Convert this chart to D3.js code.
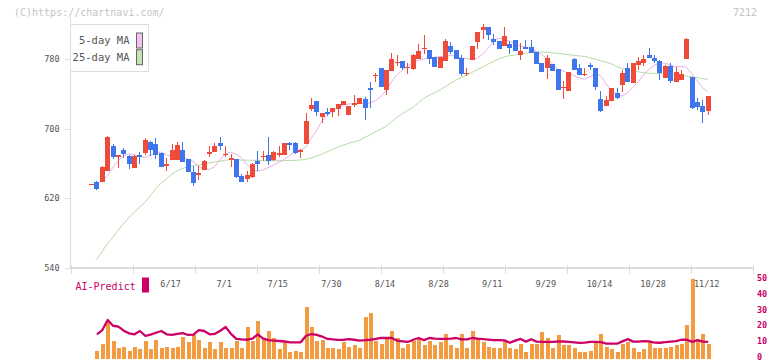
<!DOCTYPE html>
<html><head><meta charset="utf-8">
<script src="https://cdn.jsdelivr.net/npm/d3@7"></script>
<style>body{margin:0;background:#fff;} svg{display:block;} text{font-family:"DejaVu Sans Mono",monospace;}</style>
</head><body><svg id="c" width="772" height="361"></svg>
<script>
const dates = ["5/27","5/28","5/29","5/30","6/2","6/3","6/4","6/5","6/6","6/9","6/10","6/11","6/12","6/13","6/16","6/17","6/18","6/19","6/20","6/23","6/24","6/25","6/26","6/27","6/30","7/1","7/2","7/3","7/4","7/7","7/8","7/9","7/10","7/11","7/14","7/15","7/16","7/17","7/18","7/22","7/23","7/24","7/25","7/28","7/29","7/30","7/31","8/1","8/4","8/5","8/6","8/7","8/8","8/12","8/13","8/14","8/15","8/18","8/19","8/20","8/21","8/22","8/25","8/26","8/27","8/28","8/29","9/1","9/2","9/3","9/4","9/5","9/8","9/9","9/10","9/11","9/12","9/16","9/17","9/18","9/19","9/22","9/24","9/25","9/26","9/29","9/30","10/1","10/2","10/3","10/6","10/7","10/8","10/9","10/10","10/14","10/15","10/16","10/17","10/20","10/21","10/22","10/23","10/24","10/27","10/28","10/29","10/30","10/31","11/4","11/5","11/6","11/7","11/10","11/11","11/12"];
const open = [637,639,639,651,680,668,675,669,655,670,672,685,682,672,658,664,664,675,665,650,648,653,673,673,684,670,664,665,646,642,644,663,668,670,664,672,670,683,683,674,682,723,732,713,719,719,723,727,716,728,728,734,747,761,770,744,766,776,778,770,768,780,792,790,782,770,778,795,790,781,763,779,800,813,817,803,801,795,797,802,785,794,794,788,775,770,774,769,747,743,780,770,762,773,770,734,726,732,741,750,770,752,773,775,785,781,778,758,772,754,756,780,759,731,726,720];
const high = [637,640,657,692,682,670,678,670,670,673,689,686,689,672,666,682,685,685,665,657,657,664,680,684,690,680,671,665,648,651,661,674,674,690,674,680,684,685,685,677,718,735,732,718,724,724,728,732,726,739,735,736,754,764,770,767,787,785,778,775,786,797,807,790,782,782,803,800,790,785,770,795,811,820,817,809,801,817,801,802,798,802,802,788,775,785,774,769,755,765,781,774,770,775,770,743,738,747,747,767,775,775,782,785,793,785,779,773,775,771,767,804,759,735,733,738];
const low = [637,630,639,651,665,655,666,654,655,659,670,669,665,656,651,664,664,662,650,634,641,652,667,673,675,667,656,643,639,639,643,651,663,658,663,667,670,676,671,666,682,720,715,706,715,713,715,727,716,725,728,710,724,754,748,739,766,772,767,763,767,780,786,774,771,770,778,786,780,760,760,779,792,803,802,796,791,795,786,789,779,791,787,774,765,757,766,744,734,743,767,762,760,767,744,719,726,732,734,742,754,752,767,772,781,775,756,758,752,754,756,780,723,721,706,716];
const close = [637,631,656,690,668,670,671,659,669,668,687,675,670,656,659,675,681,662,650,638,649,663,673,680,680,671,666,644,639,647,659,659,669,663,673,672,683,681,672,675,709,727,719,718,717,724,728,732,726,729,735,724,744,762,748,767,780,777,770,771,785,789,793,780,771,782,801,788,780,763,764,795,811,817,808,800,792,806,793,789,789,792,787,774,765,781,766,744,748,765,767,762,763,771,748,720,733,747,735,764,754,775,778,780,781,778,764,772,755,765,763,803,724,725,719,738];
const volume = [0,5.0,9.4,23.1,10.7,6.9,7.5,5.0,7.5,5.7,10.7,5.7,11.9,6.3,7.5,6.3,7.5,13.8,10.1,14.5,11.9,6.9,10.1,5.7,10.1,6.9,6.9,11.3,6.9,20.1,10.7,23.3,12.6,17.0,12.6,5.7,10.1,4.4,5.0,4.4,32.1,20.1,10.7,11.9,6.9,6.3,5.7,10.1,7.5,8.2,6.3,26.4,28.9,10.7,9.4,12.6,17.6,12.6,6.9,9.4,10.7,12.6,8.8,10.7,8.2,10.1,15.1,8.8,6.3,15.1,6.3,17.0,12.6,10.1,7.5,6.3,6.3,10.7,6.9,5.7,9.4,4.4,9.4,9.4,16.4,13.2,6.9,14.5,8.2,8.2,6.3,4.4,4.4,5.0,10.7,15.1,7.5,5.7,3.8,9.4,10.1,6.9,4.4,5.7,10.7,6.3,6.9,6.9,7.5,8.8,9.4,20.8,50.3,10.7,15.1,9.4];
const ma5 = [null,636.5,639.9,645.7,654.8,662.9,668.6,670.9,670.3,668,667.1,669.2,672.1,673.2,670,668.3,667.8,667.5,665.5,662.3,657.1,653.7,653.1,656,663.5,670.9,673.2,670.9,666.9,659.4,653.1,651.4,652.5,655.2,658.3,661.4,664.5,669.2,673,675.5,678.4,688.7,697.3,708.2,714.9,720.1,724,727.2,728.1,728.8,729.1,729.1,729.7,732,736.6,743.8,753.6,761.6,766.8,771.4,776.3,778.3,780,781.2,782,782.7,783.2,784,783.5,780.8,780.8,779.3,780.9,785.4,792.1,799.8,803.6,803,800.3,797.5,795.3,793.5,792.1,789.4,785.3,780.7,774.5,768.5,766.2,763.9,761.1,758.4,756.8,759.5,762.8,761.1,751.9,744.6,739.8,737.5,741,747.3,753.6,761.6,768,772.8,775.4,775.3,773.1,771.2,771.3,770.8,763.4,755.3,747.3,742.5];
const ma25 = [null,549.8,558.4,567.6,575,583.1,590.5,597.4,603.7,609.5,615.2,622.7,630.7,637,642.2,647.4,651.4,654.3,656,657.7,658.3,659.2,660.6,661.7,662.6,663.7,664.5,664.3,664,663.9,663.7,663.5,663.3,663.2,663.2,663.2,663.3,663.5,663.6,664,664.7,666.3,668.4,670.6,673.4,676.3,678.5,681,683.1,684.8,686.6,689.9,692.9,696.3,699.4,702.6,707.7,712.8,716.9,720.9,724.3,729.5,734.7,738.1,741,744.2,747.9,751.9,755.6,758.7,761.5,764.5,767.6,770.8,773.9,777,779.8,782.3,783.9,784.6,785.4,786.6,787.8,788.4,788.1,787.7,787.1,786.4,785.8,785.1,784.3,783.6,782.9,781.5,779.8,777.9,776.3,774.5,771.4,769,767.8,766.7,765.3,764.4,763.6,763.4,763.1,762.9,762.6,762,761.3,760.5,759.6,758.5,757.5,756.7];
const aiPredict = [null,15.2,17.9,24.2,20.6,20,17.5,15.8,15.2,17.3,14.3,15,16.2,17.3,15.2,14.8,15.5,16,14.8,15,17.9,17.3,15.2,15.5,17.5,19.8,15.5,12.3,12,11.8,12.5,15.2,12.5,11.6,11.3,11,10.7,10.2,10.2,10.2,14.3,15.4,14.8,13.8,12.3,12,11.7,11.8,12.2,11.8,11.3,11.5,11.8,12.3,12.9,12.9,12.9,11.2,10.8,10.4,11.8,12.9,11.6,12.9,12.5,12.3,12.3,12.5,12.9,12,12,12.9,12.5,12.2,11.9,11.6,11.6,11.4,9.9,11.2,12.3,10.6,12.1,10.6,10.4,10.4,10.5,10.7,10.7,10.5,10.2,9.8,10,10.4,10.4,10.3,9.4,9.3,9.3,10.8,12.2,10.6,10.6,10.9,10.8,10,9.9,10.3,10.6,10.9,11.8,11.8,10.5,11.6,10.6,10.4];
const priceTicks = [540,620,700,780];
const volTicks = [0,10,20,30,40,50];
const dateLabels = ["6/17","7/1","7/15","7/30","8/14","8/28","9/11","9/29","10/14","10/28","11/12"];
const legendItems = ["5-day MA","25-day MA"];

const RED="#ef4b3b", BLUE="#3f76ee", GRID="#dcdcdc", TXT="#555", MAG="#cc0066";
const svg = d3.select("#c");
const x = d3.scalePoint().domain(dates).range([91.1,707.7]);
const y = d3.scaleLinear().domain([540,780]).range([268,59]);
const yv = d3.scaleLinear().domain([0,50]).range([358.5,279]);

// header texts
svg.append("text").attr("x",14).attr("y",16).attr("font-size",10).attr("fill","#c4c4c4").text("(C)https://chartnavi.com/");
svg.append("text").attr("x",757).attr("y",16).attr("text-anchor","end").attr("font-size",10).attr("fill","#c4c4c4").text("7212");

// axes
const g = svg.append("g").attr("shape-rendering","crispEdges");
g.append("line").attr("x1",70.5).attr("x2",70.5).attr("y1",18).attr("y2",268).attr("stroke",GRID);
g.append("line").attr("x1",70.5).attr("x2",752.5).attr("y1",267.5).attr("y2",267.5).attr("stroke",GRID).attr("stroke-width",2);
const tickGrid = d3.scaleLinear().domain([0,11]).range([70.5,752.5]);
d3.range(0,12).forEach(k=>{
  g.append("line").attr("x1",Math.round(tickGrid(k))+0.5).attr("x2",Math.round(tickGrid(k))+0.5).attr("y1",265).attr("y2",273.5).attr("stroke",GRID).attr("stroke-width",1);
});
priceTicks.forEach(v=>{
  g.append("line").attr("x1",64.5).attr("x2",70.5).attr("y1",Math.round(y(v))+0.5).attr("y2",Math.round(y(v))+0.5).attr("stroke",GRID);
  svg.append("text").attr("x",59.5).attr("y",y(v)).attr("dy","0.35em").attr("text-anchor","end").attr("font-size",8.5).attr("fill",TXT).text(v);
});

// MA lines
const lineFor = arr => d3.line().defined((d,i)=>arr[i]!=null).x((d,i)=>x(dates[i])).y((d,i)=>y(arr[i]));
svg.append("path").datum(dates).attr("d",lineFor(ma25)).attr("fill","none").attr("stroke","#b5dca4").attr("stroke-width",1);
svg.append("path").datum(dates).attr("d",lineFor(ma5)).attr("fill","none").attr("stroke","#e8b0e7").attr("stroke-width",1);

// candles
const cg = svg.append("g").attr("shape-rendering","crispEdges");
dates.forEach((d,i)=>{
  const cx = Math.round(x(d));
  const up = close[i] >= open[i];
  const col = up ? RED : BLUE;
  const yh = y(high[i]), yl = y(low[i]);
  cg.append("rect").attr("x",cx).attr("width",1).attr("y",yh).attr("height",Math.max(1,yl-yh)).attr("fill",col);
  const yt = y(Math.max(open[i],close[i])), yb = y(Math.min(open[i],close[i]));
  cg.append("rect").attr("x",cx-2).attr("width",5).attr("y",yt).attr("height",Math.max(1.5,yb-yt)).attr("fill",col);
});

// legend
svg.append("rect").attr("x",70.5).attr("y",24.5).attr("width",78).attr("height",47).attr("fill","#fff").attr("stroke","#dedede");
const swCols = ["#f1c2ef","#c4e2b5"];
legendItems.forEach((t,k)=>{
  const cy = 40.5 + k*16.7;
  svg.append("text").attr("x",129.5).attr("y",cy).attr("dy","0.35em").attr("text-anchor","end").attr("font-size",10.5).attr("fill",TXT).text(t);
  svg.append("rect").attr("x",136.5).attr("y",cy-7.5).attr("width",6).attr("height",15).attr("fill",swCols[k]).attr("stroke","#666");
});

// volume
const vg = svg.append("g").attr("shape-rendering","crispEdges");
dates.forEach((d,i)=>{
  if(!volume[i]) return;
  const cx = Math.round(x(d));
  vg.append("rect").attr("x",cx-1).attr("width",4).attr("y",yv(volume[i])).attr("height",yv(0)-yv(volume[i])).attr("fill","#f39b41");
});
svg.append("path").datum(dates).attr("d",d3.line().defined((d,i)=>aiPredict[i]!=null).x((d,i)=>x(dates[i])+0.5).y((d,i)=>yv(aiPredict[i]))).attr("fill","none").attr("stroke",MAG).attr("stroke-width",2.3).attr("stroke-linejoin","round");
volTicks.forEach(v=>{
  svg.append("text").attr("x",757).attr("y",yv(v)-1).attr("dy","0.32em").attr("font-size",8.5).attr("font-weight","bold").attr("fill",MAG).text(v);
});
svg.append("text").attr("x",75.5).attr("y",286).attr("dy","0.35em").attr("font-size",10).attr("fill",MAG).text("AI-Predict");
svg.append("rect").attr("x",142).attr("y",277.5).attr("width",7).attr("height",15).attr("fill",MAG);

// date labels on top
dateLabels.forEach(d=>{
  svg.append("text").attr("x",x(d)-1).attr("y",284).attr("dy","0.35em").attr("text-anchor","middle").attr("font-size",8.5).attr("fill",TXT).text(d);
});
</script>
</body></html>
